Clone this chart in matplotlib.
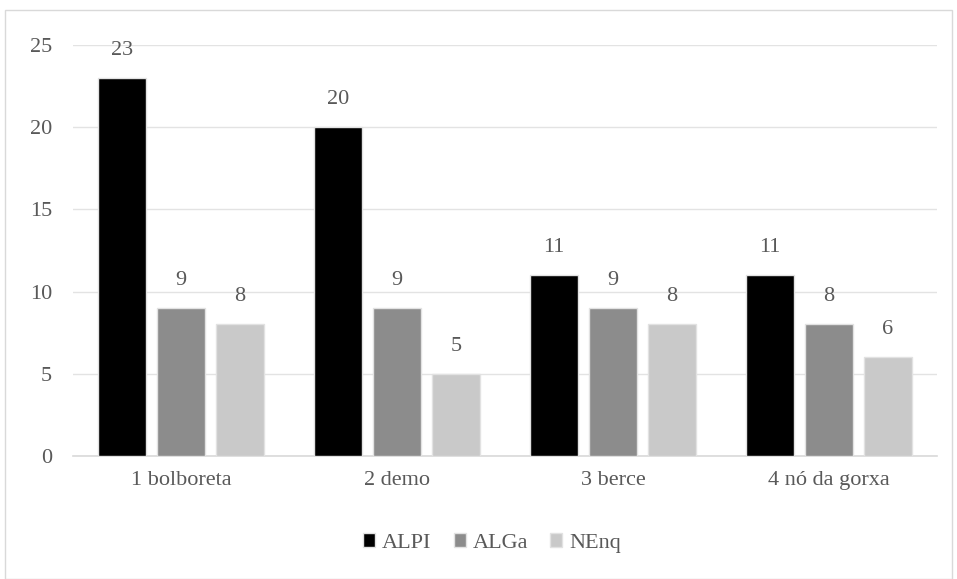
import matplotlib
matplotlib.use("Agg")
import matplotlib.pyplot as plt
import numpy as np
from matplotlib.patches import Rectangle

categories = ["1 bolboreta", "2 demo", "3 berce", "4 nó da gorxa"]
series_names = ["ALPI", "ALGa", "NEnq"]
alpi = [23, 20, 11, 11]
alga = [9, 9, 9, 8]
nenq = [8, 5, 8, 6]
yticks = [0, 5, 10, 15, 20, 25]

colors = ["#000000", "#8c8c8c", "#c9c9c9"]
text_color = "#595959"
fs = 16
plt.rcParams["font.family"] = ["Liberation Serif", "DejaVu Serif"]

W, H = 957, 579
fig = plt.figure(figsize=(W / 100, H / 100), dpi=100)

# outer chart frame
fig.patches.append(Rectangle((5 / W, 0), 947 / W, 1 - 10 / H, transform=fig.transFigure,
                             fill=False, edgecolor="#d9d9d9", linewidth=1.0))

left, right = 73 / W, 937 / W
bottom, top = 1 - 456 / H, 1 - 45 / H
ax = fig.add_axes([left, bottom, right - left, top - bottom])
ax.set_xlim(-0.5, 3.5)
ax.set_ylim(0, 25)

x = np.arange(len(categories))
width = 0.222
step = 0.273
for i, (vals, c) in enumerate(zip([alpi, alga, nenq], colors)):
    pos = x + (i - 1) * step
    ax.bar(pos, vals, width, color=c, label=series_names[i], zorder=3,
           edgecolor="#e2e2e2", linewidth=1.0)
    for p, v in zip(pos, vals):
        ax.annotate(str(v), (p, v), xytext=(0, 20), textcoords="offset points",
                    ha="center", va="center", fontsize=fs, color=text_color)

ax.set_yticks(yticks)
ax.yaxis.grid(True, color="#e3e3e3", linewidth=1.0, zorder=0)
ax.set_axisbelow(True)
for s in ["top", "right", "left"]:
    ax.spines[s].set_visible(False)
ax.spines["bottom"].set_color("#d9d9d9")
ax.spines["bottom"].set_linewidth(1.2)
ax.tick_params(axis="y", length=0, pad=15, labelsize=fs, labelcolor=text_color)
ax.tick_params(axis="x", length=0, pad=11, labelsize=fs, labelcolor=text_color)
ax.set_xticks(x)
ax.set_xticklabels(categories)

leg = fig.legend(loc="center", bbox_to_anchor=(492 / W, 1 - 543 / H), ncol=3,
                 frameon=False, fontsize=fs, handlelength=0.55, handleheight=0.55,
                 handletextpad=0.3, columnspacing=1.0)
for t in leg.get_texts():
    t.set_color(text_color)

fig.savefig("out.png", dpi=100)
